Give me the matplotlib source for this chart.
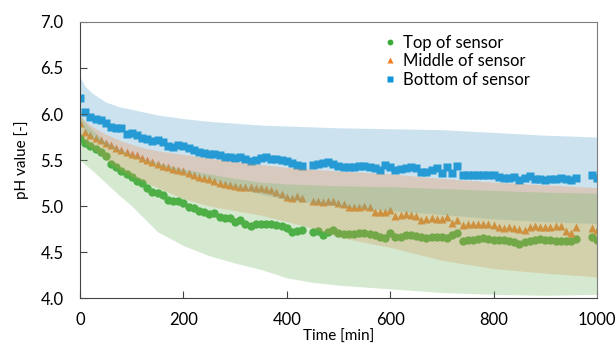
import matplotlib
matplotlib.use("Agg")
import matplotlib.pyplot as plt

# sample times [min]
time = [0, 10, 20, 30, 40, 50, 60, 70, 80, 90,
        100, 110, 120, 130, 140, 150, 160, 170, 180, 190,
        200, 210, 220, 230, 240, 250, 260, 270, 280, 290,
        300, 310, 320, 330, 340, 350, 360, 370, 380, 390,
        400, 410, 420, 430,
        450, 460, 470, 480, 490, 500, 510, 520, 530, 540,
        550, 560, 570, 580, 590, 600, 610, 620, 630, 640,
        650, 660, 670, 680, 690, 700, 710, 720, 730, 740,
        750, 760, 770, 780, 790, 800, 810, 820, 830, 840,
        850, 860, 870, 880, 890, 900, 910, 920, 930, 940,
        950, 960, 990, 1000]

ph_top = [5.74, 5.68, 5.65, 5.62, 5.59, 5.54, 5.46, 5.42, 5.38, 5.35,
          5.32, 5.27, 5.25, 5.20, 5.15, 5.14, 5.12, 5.07, 5.05, 5.06,
          5.03, 4.99, 4.98, 4.95, 4.93, 4.91, 4.92, 4.88, 4.87, 4.87,
          4.83, 4.85, 4.80, 4.78, 4.80, 4.81, 4.80, 4.81, 4.79, 4.78,
          4.76, 4.72, 4.73, 4.74,
          4.72, 4.73, 4.69, 4.72, 4.74, 4.71, 4.70, 4.70, 4.70, 4.71,
          4.71, 4.70, 4.69, 4.66, 4.65, 4.71, 4.66, 4.66, 4.69, 4.68,
          4.67, 4.66, 4.65, 4.66, 4.66, 4.66, 4.65, 4.68, 4.71, 4.62,
          4.63, 4.63, 4.64, 4.65, 4.64, 4.63, 4.63, 4.63, 4.62, 4.61,
          4.59, 4.61, 4.62, 4.63, 4.64, 4.63, 4.63, 4.62, 4.62, 4.62,
          4.62, 4.64, 4.66, 4.63]

ph_mid = [5.90, 5.80, 5.77, 5.74, 5.72, 5.68, 5.66, 5.63, 5.61, 5.59,
          5.57, 5.55, 5.52, 5.50, 5.48, 5.46, 5.44, 5.42, 5.40, 5.39,
          5.38, 5.36, 5.34, 5.32, 5.30, 5.29, 5.27, 5.25, 5.24, 5.23,
          5.22, 5.21, 5.21, 5.21, 5.20, 5.20, 5.18, 5.17, 5.15, 5.13,
          5.10, 5.09, 5.11, 5.09,
          5.05, 5.05, 5.04, 5.05, 5.05, 5.03, 5.02, 4.99, 4.99, 4.99,
          5.00, 4.99, 4.93, 4.94, 4.93, 4.96, 4.89, 4.90, 4.91, 4.90,
          4.89, 4.85, 4.86, 4.87, 4.86, 4.86, 4.88, 4.82, 4.85, 4.79,
          4.80, 4.80, 4.81, 4.80, 4.80, 4.79, 4.77, 4.76, 4.77, 4.76,
          4.75, 4.74, 4.77, 4.78, 4.77, 4.77, 4.77, 4.78, 4.78, 4.73,
          4.71, 4.77, 4.76, 4.74]

ph_bot = [6.17, 6.02, 5.97, 5.95, 5.93, 5.90, 5.86, 5.85, 5.85, 5.78,
          5.79, 5.77, 5.74, 5.73, 5.71, 5.72, 5.70, 5.65, 5.64, 5.66,
          5.65, 5.63, 5.61, 5.59, 5.58, 5.57, 5.56, 5.55, 5.53, 5.53,
          5.52, 5.53, 5.51, 5.49, 5.50, 5.52, 5.53, 5.51, 5.51, 5.50,
          5.49, 5.47, 5.45, 5.43,
          5.45, 5.46, 5.47, 5.48, 5.46, 5.44, 5.42, 5.42, 5.42, 5.43,
          5.43, 5.42, 5.41, 5.39, 5.45, 5.42, 5.39, 5.40, 5.41, 5.42,
          5.41, 5.37, 5.37, 5.39, 5.41, 5.36, 5.42, 5.36, 5.43, 5.34,
          5.34, 5.34, 5.34, 5.34, 5.34, 5.34, 5.32, 5.30, 5.31, 5.32,
          5.28, 5.31, 5.33, 5.29, 5.29, 5.28, 5.29, 5.29, 5.30, 5.29,
          5.28, 5.30, 5.34, 5.30]

# spread bands
band_t = [0, 10, 25, 50, 75, 100, 125, 150, 200, 250, 300, 350, 400, 450, 500,
          600, 700, 800, 900, 1000]
top_hi = [5.98, 5.90, 5.82, 5.70, 5.62, 5.56, 5.51, 5.47, 5.40, 5.35, 5.30, 5.26,
          5.24, 5.23, 5.22, 5.21, 5.19, 5.17, 5.15, 5.14]
top_lo = [5.50, 5.45, 5.38, 5.25, 5.12, 5.00, 4.86, 4.72, 4.57, 4.46, 4.38, 4.31,
          4.22, 4.17, 4.14, 4.10, 4.06, 4.04, 4.03, 4.04]
mid_hi = [6.00, 5.92, 5.86, 5.78, 5.72, 5.67, 5.63, 5.60, 5.56, 5.52, 5.48, 5.45,
          5.42, 5.40, 5.38, 5.35, 5.30, 5.26, 5.23, 5.20]
mid_lo = [5.78, 5.68, 5.62, 5.50, 5.40, 5.32, 5.26, 5.20, 5.08, 5.00, 4.95, 4.90,
          4.83, 4.76, 4.66, 4.55, 4.41, 4.32, 4.27, 4.23]
bot_hi = [6.40, 6.30, 6.22, 6.13, 6.08, 6.05, 6.02, 5.99, 5.95, 5.92, 5.90, 5.88,
          5.87, 5.86, 5.85, 5.84, 5.83, 5.80, 5.77, 5.75]
bot_lo = [5.95, 5.80, 5.74, 5.66, 5.60, 5.55, 5.50, 5.45, 5.37, 5.30, 5.20, 5.13,
          5.07, 5.03, 5.00, 4.95, 4.91, 4.86, 4.83, 4.81]

plt.rcParams['font.family'] = ['Lato', 'DejaVu Sans']

fig = plt.figure(figsize=(6.16, 3.49), dpi=100)
ax = fig.add_axes([0.13, 0.146, 0.839, 0.791])

ax.plot(time, ph_top, 'o', color='#3cab36', ms=6, mec='none', label='Top of sensor', zorder=1)
ax.plot(time, ph_mid, '^', color='#f47b20', ms=6.3, mec='none', label='Middle of sensor', zorder=1)
ax.plot(time, ph_bot, 's', color='#0f96d8', ms=5.8, mec='none', label='Bottom of sensor', zorder=1)

ax.fill_between(band_t, bot_lo, bot_hi, color='#58a5cd', alpha=0.3, lw=0, zorder=2)
ax.fill_between(band_t, mid_lo, mid_hi, color='#f18d4d', alpha=0.3, lw=0, zorder=2)
ax.fill_between(band_t, top_lo, top_hi, color='#76b969', alpha=0.3, lw=0, zorder=2)

ax.set_xlim(0, 1000)
ax.set_ylim(4.0, 7.0)
ax.set_xticks([0, 200, 400, 600, 800, 1000])
ax.set_yticks([4.0, 4.5, 5.0, 5.5, 6.0, 6.5, 7.0])
ax.set_yticklabels(['4.0', '4.5', '5.0', '5.5', '6.0', '6.5', '7.0'])
ax.tick_params(direction='in', labelsize=12, pad=12, color='#444444', length=5)
ax.tick_params(axis='x', pad=10)
for s in ax.spines.values():
    s.set_color('#7f7f7f')
ax.spines['left'].set_color('#444444')
ax.spines['bottom'].set_color('#444444')

ax.set_xlabel('Time [min]', fontsize=11, labelpad=1)
ax.set_ylabel('pH value [-]', fontsize=11, labelpad=8)

leg = ax.legend(loc='upper left', bbox_to_anchor=(0.57, 0.99), frameon=False,
                fontsize=12, handlelength=0.6, handletextpad=0.5,
                labelspacing=0.15, markerscale=0.7, borderaxespad=0.2)

fig.savefig('out.png', dpi=100)
